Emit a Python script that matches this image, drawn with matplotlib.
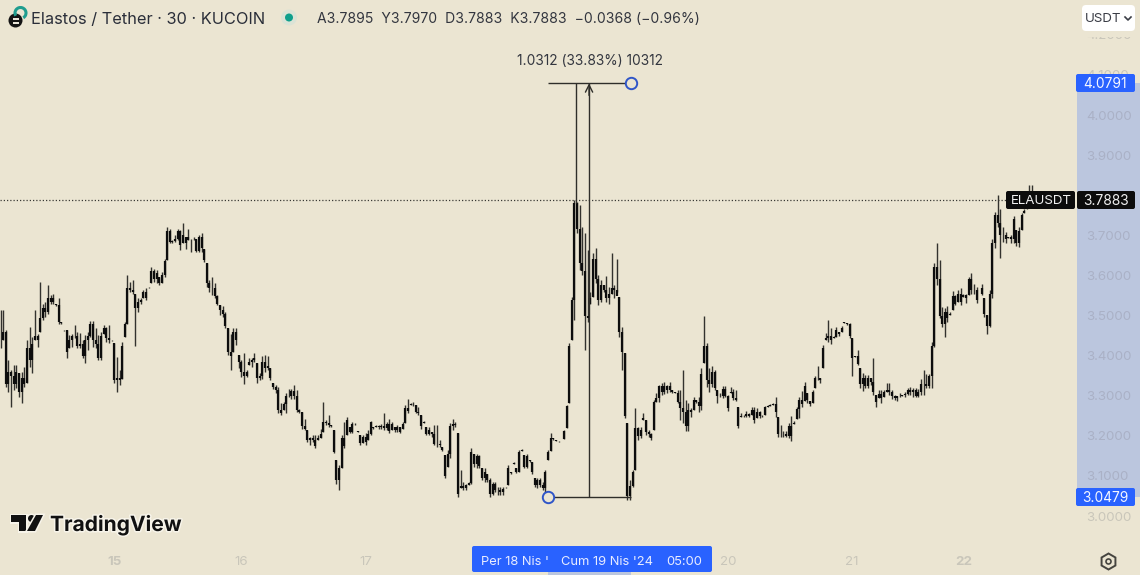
import numpy as np
import matplotlib
matplotlib.use('Agg')
import matplotlib.pyplot as plt
import matplotlib.patheffects as pe
from matplotlib.patches import Circle, FancyBboxPatch, Polygon, Rectangle, RegularPolygon, Arc

plt.rcParams['font.family'] = ['Inter', 'DejaVu Sans']

# 30 min ELA/USDT bars
highs = [
    3.515,3.515,3.464,3.389,3.364,3.376,3.376,3.356,3.360,3.372,
    3.439,3.472,3.447,3.515,3.455,3.584,3.530,3.534,3.576,3.551,
    3.555,3.530,3.543,3.485,3.465,3.464,3.451,3.455,3.476,3.460,
    3.457,3.439,3.451,3.460,3.487,3.487,3.468,3.451,3.460,3.476,
    3.472,3.476,3.440,3.431,3.397,3.364,3.435,3.485,3.601,3.584,
    3.588,3.555,3.543,3.543,3.563,3.568,3.572,3.620,3.617,3.613,
    3.597,3.609,3.640,3.721,3.717,3.688,3.701,3.717,3.713,3.730,
    3.696,3.717,3.692,3.696,3.692,3.701,3.705,3.667,3.630,3.588,
    3.597,3.580,3.551,3.526,3.524,3.509,3.468,3.455,3.470,3.470,
    3.401,3.389,3.406,3.364,3.393,3.393,3.407,3.381,3.356,3.399,
    3.401,3.399,3.368,3.331,3.327,3.322,
    3.281,3.285,3.306,3.318,3.318,3.327,3.314,3.268,3.260,3.243,
    3.214,3.198,3.202,3.202,3.202,3.218,3.285,3.239,3.252,3.227,
    3.214,3.141,3.127,3.202,3.235,3.246,3.223,3.235,3.231,3.212,
    3.202,3.202,3.206,3.214,3.238,3.223,3.227,3.227,3.229,3.258,
    3.235,3.243,3.235,3.223,3.227,3.223,3.235,3.277,3.293,3.281,
    3.285,3.277,3.273,3.252,3.238,3.223,3.223,3.210,3.227,3.227,
    3.189,3.173,3.152,3.164,3.231,3.243,3.235,3.206,3.115,3.086,
    3.081,3.086,3.169,3.156,3.156,3.152,3.121,3.119,3.106,3.094,
    3.086,3.086,3.073,3.073,3.073,3.073,3.127,3.110,3.135,3.119,
    3.164,3.166,3.152,3.156,3.140,3.135,3.094,3.096,3.094,3.086,
    3.115,
    3.165,3.206,3.194,3.190,3.187,3.188,3.215,3.277,3.431,3.547,
    3.788,3.784,3.776,3.722,3.705,3.663,3.560,3.655,3.668,3.601,
    3.589,3.576,3.599,3.572,3.655,3.576,3.640,3.547,3.472,3.406,
    3.231,3.090,3.115,3.269,3.223,3.223,3.256,3.240,3.215,3.206,
    3.289,3.306,3.327,3.331,3.335,3.327,3.335,3.314,3.310,3.314,
    3.314,3.364,3.289,3.281,3.269,3.298,3.289,3.298,3.368,3.499,
    3.431,3.368,3.373,3.364,3.314,
    3.306,3.325,3.325,3.302,3.321,3.316,3.315,3.271,3.256,3.252,
    3.261,3.256,3.271,3.271,3.269,3.261,3.252,3.275,3.277,3.280,
    3.281,3.296,3.248,3.227,3.211,3.211,3.233,3.250,3.236,3.273,
    3.298,3.313,3.335,3.306,3.286,3.315,3.350,3.374,3.344,3.427,
    3.456,3.489,3.468,3.449,3.471,3.460,3.473,3.485,3.482,3.481,
    3.443,3.399,3.414,3.369,3.356,3.352,3.352,3.344,3.394,3.302,
    3.315,3.315,3.315,3.331,3.331,3.315,3.302,3.296,3.306,3.302,
    3.310,3.319,3.321,3.319,3.319,3.316,3.341,3.364,3.355,3.355,
    3.435,
    3.630,3.680,3.639,3.522,3.518,3.524,3.510,3.561,3.551,3.565,
    3.570,3.555,3.554,3.597,3.607,3.579,3.572,3.570,3.579,3.543,
    3.501,3.565,3.690,3.759,3.801,3.767,3.722,3.709,3.697,3.701,
    3.748,3.713,3.722,3.755,3.767,3.776,3.826,3.826,
]
lows = [
    3.418,3.440,3.322,3.310,3.273,3.314,3.320,3.298,3.281,3.322,
    3.331,3.372,3.356,3.439,3.422,3.460,3.489,3.497,3.505,3.530,
    3.530,3.524,3.480,3.480,3.462,3.393,3.418,3.422,3.443,3.418,
    3.418,3.393,3.381,3.414,3.447,3.422,3.418,3.389,3.389,3.455,
    3.435,3.431,3.437,3.331,3.310,3.327,3.343,3.447,3.480,3.559,
    3.555,3.424,3.509,3.530,3.543,3.540,3.569,3.580,3.584,3.580,
    3.576,3.580,3.597,3.638,3.680,3.680,3.684,3.688,3.663,3.680,
    3.667,3.688,3.659,3.688,3.659,3.659,3.659,3.634,3.572,3.559,
    3.551,3.543,3.526,3.501,3.497,3.468,3.401,3.364,3.410,3.426,
    3.368,3.347,3.329,3.347,3.376,3.372,3.385,3.331,3.339,3.343,
    3.360,3.364,3.339,3.318,3.306,3.256,
    3.252,3.264,3.256,3.297,3.293,3.293,3.260,3.256,3.218,3.214,
    3.185,3.177,3.185,3.169,3.189,3.194,3.210,3.227,3.223,3.223,
    3.158,3.081,3.065,3.121,3.169,3.202,3.206,3.206,3.228,3.209,
    3.177,3.181,3.177,3.189,3.202,3.218,3.223,3.218,3.216,3.214,
    3.214,3.206,3.214,3.210,3.210,3.206,3.218,3.231,3.256,3.277,
    3.274,3.256,3.252,3.218,3.233,3.202,3.202,3.198,3.177,3.173,
    3.173,3.163,3.094,3.123,3.144,3.214,3.223,3.048,3.069,3.065,
    3.065,3.077,3.081,3.123,3.119,3.119,3.090,3.086,3.086,3.048,
    3.052,3.061,3.052,3.052,3.052,3.069,3.077,3.106,3.131,3.108,
    3.110,3.163,3.119,3.119,3.135,3.106,3.073,3.069,3.073,3.065,
    3.061,
    3.140,3.161,3.190,3.186,3.184,3.186,3.191,3.219,3.281,3.439,
    3.489,3.705,3.614,3.601,3.414,3.485,3.530,3.547,3.580,3.526,
    3.535,3.560,3.535,3.530,3.555,3.543,3.560,3.447,3.364,3.244,
    3.040,3.040,3.073,3.115,3.190,3.194,3.240,3.202,3.198,3.190,
    3.215,3.285,3.285,3.302,3.304,3.306,3.310,3.306,3.306,3.281,
    3.240,3.231,3.211,3.211,3.248,3.265,3.281,3.260,3.265,3.381,
    3.323,3.310,3.323,3.314,3.281,
    3.298,3.294,3.298,3.263,3.306,3.290,3.286,3.219,3.246,3.248,
    3.248,3.246,3.252,3.233,3.244,3.244,3.246,3.252,3.273,3.275,
    3.277,3.248,3.197,3.197,3.198,3.197,3.194,3.188,3.230,3.241,
    3.244,3.273,3.286,3.281,3.275,3.281,3.319,3.340,3.331,3.369,
    3.439,3.435,3.429,3.443,3.446,3.448,3.460,3.481,3.477,3.443,
    3.350,3.396,3.377,3.319,3.313,3.319,3.319,3.327,3.302,3.271,
    3.294,3.281,3.298,3.310,3.302,3.291,3.290,3.288,3.296,3.300,
    3.298,3.302,3.302,3.298,3.296,3.298,3.302,3.302,3.319,3.319,
    3.319,
    3.422,3.576,3.493,3.472,3.446,3.485,3.501,3.514,3.526,3.535,
    3.526,3.547,3.532,3.551,3.555,3.555,3.532,3.568,3.551,3.497,
    3.454,3.472,3.543,3.668,3.722,3.643,3.684,3.680,3.693,3.680,
    3.680,3.673,3.672,3.713,3.755,3.767,3.796,3.788,
]
closes = [
    3.440,3.460,3.330,3.360,3.350,3.330,3.360,3.310,3.345,3.330,
    3.420,3.390,3.430,3.450,3.440,3.495,3.520,3.510,3.545,3.535,
    3.545,3.526,3.483,3.482,3.463,3.410,3.440,3.450,3.450,3.425,
    3.430,3.400,3.440,3.450,3.480,3.440,3.430,3.395,3.450,3.470,
    3.445,3.438,3.438,3.340,3.345,3.340,3.425,3.480,3.570,3.565,
    3.560,3.520,3.535,3.540,3.560,3.545,3.570,3.612,3.590,3.605,
    3.582,3.600,3.635,3.710,3.684,3.685,3.690,3.710,3.675,3.700,
    3.680,3.695,3.690,3.692,3.662,3.695,3.668,3.638,3.580,3.570,
    3.570,3.550,3.530,3.515,3.505,3.475,3.410,3.400,3.460,3.440,
    3.385,3.360,3.350,3.360,3.385,3.390,3.395,3.345,3.350,3.385,
    3.370,3.375,3.345,3.322,3.315,3.265,
    3.258,3.280,3.300,3.300,3.312,3.300,3.265,3.260,3.225,3.218,
    3.190,3.195,3.190,3.175,3.195,3.205,3.235,3.232,3.228,3.225,
    3.160,3.090,3.120,3.195,3.175,3.240,3.210,3.230,3.230,3.210,
    3.182,3.198,3.185,3.205,3.235,3.220,3.225,3.222,3.225,3.220,
    3.230,3.212,3.230,3.215,3.222,3.210,3.230,3.270,3.262,3.279,
    3.280,3.260,3.258,3.225,3.235,3.205,3.215,3.205,3.180,3.180,
    3.178,3.165,3.100,3.155,3.225,3.230,3.228,3.055,3.075,3.070,
    3.078,3.082,3.160,3.130,3.150,3.125,3.095,3.110,3.090,3.055,
    3.080,3.065,3.065,3.060,3.068,3.070,3.120,3.108,3.133,3.110,
    3.160,3.164,3.122,3.150,3.137,3.110,3.078,3.090,3.078,3.070,
    3.110,
    3.160,3.195,3.192,3.188,3.186,3.187,3.212,3.275,3.425,3.540,
    3.780,3.715,3.630,3.610,3.500,3.495,3.545,3.640,3.590,3.540,
    3.575,3.565,3.545,3.555,3.570,3.565,3.550,3.460,3.410,3.250,
    3.050,3.075,3.110,3.220,3.200,3.215,3.245,3.210,3.205,3.195,
    3.285,3.295,3.325,3.310,3.325,3.315,3.325,3.310,3.308,3.285,
    3.270,3.260,3.225,3.265,3.260,3.290,3.285,3.275,3.355,3.425,
    3.340,3.330,3.360,3.320,3.300,
    3.300,3.318,3.300,3.270,3.310,3.295,3.290,3.225,3.250,3.250,
    3.255,3.250,3.265,3.240,3.260,3.250,3.250,3.272,3.275,3.278,
    3.279,3.260,3.205,3.205,3.205,3.200,3.225,3.200,3.233,3.268,
    3.290,3.280,3.325,3.290,3.280,3.310,3.345,3.345,3.340,3.420,
    3.445,3.450,3.440,3.447,3.465,3.455,3.470,3.483,3.479,3.450,
    3.395,3.398,3.380,3.330,3.345,3.325,3.345,3.335,3.310,3.285,
    3.305,3.295,3.310,3.315,3.310,3.300,3.295,3.300,3.300,3.301,
    3.305,3.315,3.310,3.315,3.300,3.310,3.330,3.330,3.325,3.350,
    3.425,
    3.620,3.590,3.500,3.480,3.510,3.495,3.505,3.550,3.530,3.555,
    3.535,3.552,3.545,3.590,3.565,3.565,3.540,3.569,3.555,3.505,
    3.475,3.555,3.680,3.750,3.730,3.700,3.700,3.690,3.695,3.690,
    3.740,3.680,3.710,3.750,3.762,3.770,3.800,3.788,
]

# 3.8 sits fully under the last price tag in the reference, so it is not listed
price_ticks = [3.0, 3.1, 3.2, 3.3, 3.4, 3.5, 3.6, 3.7, 3.9, 4.0, 4.1, 4.2]
day_bars = [43, 91, 138, 185, 232, 275, 322, 364]
day_labels = ['15', '16', '17', '18', '19', '20', '21', '22']
shown_days = ['15', '16', '17', '20', '21', '22']
bold_days = ['15', '22']

measure_low = 3.0479
measure_high = 4.0791
measure_start = 206.8
measure_end = 238.4
measure_mid = 222.5
measure_left = 217.6
last_price = 3.7883

BG = '#ebe5d2'
BLUE = '#2962ff'

fig = plt.figure(figsize=(11.4, 5.75), dpi=100, facecolor=BG)
ax = fig.add_axes([0, 0, 1, 1], facecolor=BG)
ax.set_xlim(-0.2, 430.8)
ax.set_ylim(2.853, 4.287)
for s in ax.spines.values():
    s.set_visible(False)

# bars, the body runs from the previous close to this close
bar_x = np.arange(len(highs))
highs = np.array(highs)
lows = np.array(lows)
closes = np.array(closes)
opens = np.clip(np.r_[closes[0], closes[:-1]], lows, highs)
ax.vlines(bar_x, lows, highs, color='#33322e', linewidth=1.0, zorder=3)
ax.vlines(bar_x, np.minimum(opens, closes), np.maximum(opens, closes),
          color='#0d0d0d', linewidth=1.6, zorder=3)

# scale band and last price line
ax.axhspan(measure_low, measure_high, xmin=1077 / 1140, color='#bbc6de', linewidth=0, zorder=1)
ax.axhline(last_price, xmax=1006 / 1140, color='#3a3a36', linewidth=0.9, linestyle=(0, (1, 1.6)), zorder=2)

# price measure tool
ax.hlines(measure_low, measure_start, measure_end, color='#2f2e2a', linewidth=1.0, zorder=4)
ax.hlines(measure_high, measure_start, measure_end, color='#2f2e2a', linewidth=1.0, zorder=4)
ax.vlines(measure_mid, measure_low, measure_high, color='#2f2e2a', linewidth=1.0, zorder=4)
ax.vlines(measure_left, 3.78, measure_high, color='#2f2e2a', linewidth=1.0, zorder=4)
ax.annotate('', xy=(measure_mid, measure_high), xytext=(measure_mid, measure_high - 0.03),
            arrowprops=dict(arrowstyle='->', color='#2f2e2a', lw=1.0, mutation_scale=13,
                            shrinkA=0, shrinkB=0), zorder=4)
ax.plot([measure_start, measure_end], [measure_low, measure_high], linestyle='none', marker='o',
        markersize=8.2, markerfacecolor=BG, markeredgecolor='#2f55c8', markeredgewidth=1.4, zorder=5)

# scales sit inside the axes like in the TradingView pane
ax.yaxis.tick_right()
ax.set_yticks(price_ticks)
ax.set_yticklabels(['%.4f' % p for p in price_ticks])
ax.tick_params(axis='y', length=0, pad=-38.5, labelsize=9.6)
for p, lab in zip(price_ticks, ax.get_yticklabels()):
    lab.set_color('#aab1c6' if measure_low < p < measure_high else '#c9c6ba')
    lab.set_zorder(2)

day_pos = [b for b, d in zip(day_bars, day_labels) if d in shown_days]
ax.set_xticks(day_pos)
ax.set_xticklabels(shown_days)
ax.tick_params(axis='x', length=0, pad=-13.5, labelsize=9.6, labelcolor='#c9c6ba')
for d, lab in zip(shown_days, ax.get_xticklabels()):
    if d in bold_days:
        lab.set_fontweight('bold')

# overlay in image pixels for the widgets around the chart
ov = fig.add_axes([0, 0, 1, 1], zorder=5)
ov.set_xlim(0, 1140)
ov.set_ylim(575, 0)
ov.axis('off')
ov.patch.set_alpha(0)


def tag(x0, y0, x1, y1, color):
    ov.add_patch(FancyBboxPatch((x0 + 2, y0 + 2), x1 - x0 - 4, y1 - y0 - 4,
                                boxstyle='round,pad=2,rounding_size=2', fc=color, ec='none'))


# header
ov.add_patch(Circle((15.5, 20.5), 7, fc='#141414', ec='none'))
ov.add_patch(Rectangle((12.5, 17.5), 6, 2, fc='#e8e4d8', ec='none'))
ov.add_patch(Rectangle((12.5, 21.5), 6, 2, fc='#e8e4d8', ec='none'))
ov.add_patch(Arc((20.5, 13), 11, 11, theta1=150, theta2=60, color='#1f9d8f', lw=2.2))
ov.text(31, 19.5, 'Elastos / Tether · 30 · KUCOIN', fontsize=11.8, color='#2a2e39', va='center')
ov.add_patch(Circle((289, 17.5), 8, fc='#dbe3d6', ec='none'))
ov.add_patch(Circle((289, 17.5), 4, fc='#0e9f8c', ec='none'))
ov.text(317, 19, 'A3.7895  Y3.7970  D3.7883  K3.7883  −0.0368 (−0.96%)', fontsize=10.1,
        color='#33363f', va='center')
ov.text(590, 61, '1.0312 (33.83%) 10312', fontsize=9.9, color='#33363f', va='center', ha='center')

# currency button, the 4.2 label is cut off just under it
ov.add_patch(Rectangle((1078, 28), 60, 8.5, fc=BG, ec='none'))
ov.add_patch(FancyBboxPatch((1086, 9), 45, 18, boxstyle='round,pad=4,rounding_size=4', fc='white', ec='none'))
ov.text(1085, 19.5, 'USDT', fontsize=9.6, color='#3a3d46', va='center')
ov.plot([1125, 1128, 1131], [17, 20, 17], color='#3a3d46', linewidth=1.2)

# price tags
tag(1076, 74, 1135, 92, BLUE)
tag(1076, 488, 1135, 506, BLUE)
tag(1006, 191, 1075, 209, '#0c0c0c')
tag(1077, 191, 1135, 209, '#0c0c0c')
ov.text(1105.5, 84, '4.0791', fontsize=9.9, color='#f4f6ff', va='center', ha='center')
ov.text(1105.5, 498, '3.0479', fontsize=9.9, color='#f4f6ff', va='center', ha='center')
ov.text(1041, 201, 'ELAUSDT', fontsize=9.6, color='#f0f0f0', va='center', ha='center')
ov.text(1105.5, 201, '3.7883', fontsize=9.9, color='#f0f0f0', va='center', ha='center')

# time range tag
ov.add_patch(Rectangle((548, 570), 83, 5, fc='#bbc6de', ec='none'))
tag(472, 546, 712, 572, BLUE)
ov.text(481, 562, "Per 18 Nis '", fontsize=9.3, color='#e8ecff', va='center')
ov.text(561, 562, "Cum 19 Nis '24", fontsize=9.3, color='#e8ecff', va='center')
ov.text(666, 562, '05:00', fontsize=9.3, color='#e8ecff', va='center')

# settings icon
ov.add_patch(RegularPolygon((1108.5, 561.5), 6, radius=8, orientation=0, fc='none', ec='#45443f', lw=1.4))
ov.add_patch(Circle((1108.5, 561.5), 2.5, fc='none', ec='#45443f', lw=1.2))

# logo
halo = [pe.withStroke(linewidth=2.2, foreground='#f7f4ea')]
logo_parts = [
    Polygon([(11, 515), (26, 515), (26, 531), (18.5, 531), (18.5, 522), (11, 522)], closed=True, fc='#111111', ec='none'),
    Circle((31.5, 518.5), 3.5, fc='#111111', ec='none'),
    Polygon([(36, 515), (43, 515), (35, 531), (27, 531)], closed=True, fc='#111111', ec='none'),
]
for part in logo_parts:
    ov.add_patch(part)
    part.set_path_effects(halo)
ov.text(50, 524.5, 'TradingView', fontsize=15.1, fontweight='bold', color='#111111', va='center', path_effects=halo)

fig.savefig('out.png', dpi=100, facecolor=BG)
